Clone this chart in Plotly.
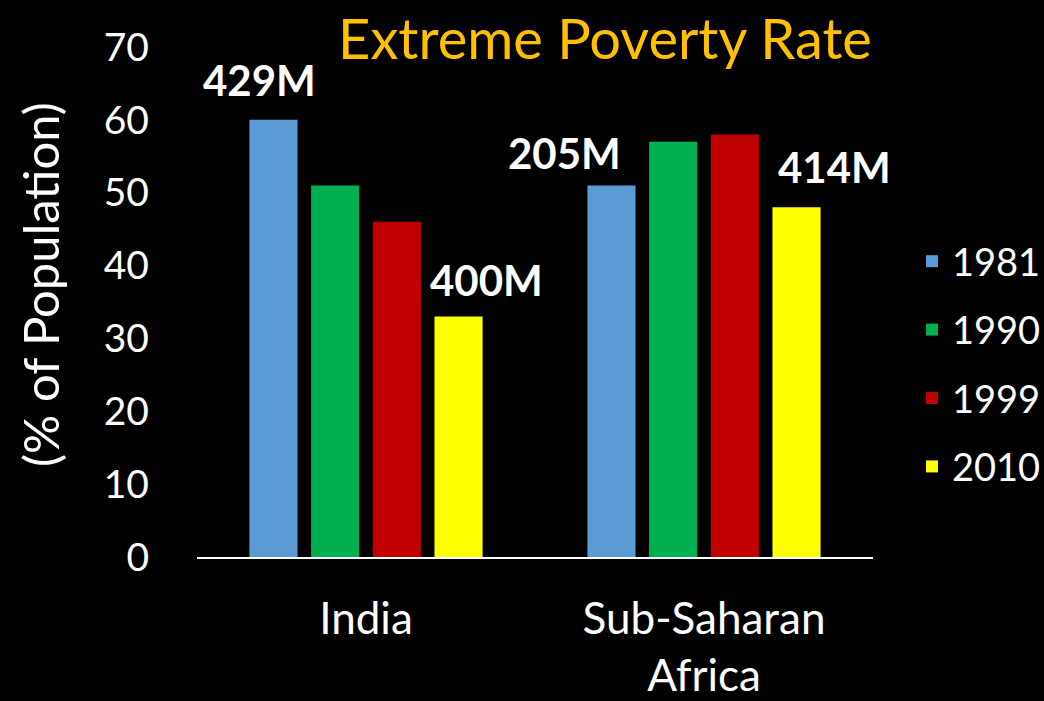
import plotly.graph_objects as go

categories = ["India", "Sub-Saharan<br>Africa"]
years = ["1981", "1990", "1999", "2010"]
values = {
    "1981": [60, 51],
    "1990": [51, 57],
    "1999": [46, 58],
    "2010": [33, 48],
}
colors = {"1981": "#5B9BD5", "1990": "#00B050", "1999": "#C00000", "2010": "#FFFF00"}

label_texts = ["429M", "400M", "205M", "414M"]
label_pos = [(259, 80), (486, 280), (564, 153), (834, 167)]  # pixel centers

W, H = 1044, 701
L, R, T, B = 197, 171, 47, 144
FONT = "Lato"

fig = go.Figure()
for i, y in enumerate(years):
    fig.add_trace(go.Bar(
        name=y, x=categories, y=values[y],
        marker=dict(color=colors[y], line=dict(width=0)),
        legendgroup=y,
    ))

pw, ph = W - L - R, H - T - B
anns = []
for t, (px, py) in zip(label_texts, label_pos):
    anns.append(dict(
        text=f"<b>{t}</b>", x=(px - L) / pw, y=(H - B - py) / ph,
        xref="paper", yref="paper", showarrow=False,
        xanchor="center", yanchor="middle",
        font=dict(family=FONT, size=42, color="white"),
    ))
anns.append(dict(
    text="(% of Population)", x=(40 - L) / pw, y=(H - B - 285) / ph,
    xref="paper", yref="paper", showarrow=False, textangle=-90,
    xanchor="center", yanchor="middle",
    font=dict(family=FONT, size=49, color="white"),
))

fig.update_layout(
    width=W, height=H,
    paper_bgcolor="black", plot_bgcolor="black",
    margin=dict(l=L, r=R, t=T, b=B, autoexpand=False),
    barmode="group", bargap=0.27, bargroupgap=0.22,
    font=dict(family=FONT, color="white"),
    title=dict(text="Extreme Poverty Rate", x=605 / W, xanchor="center",
               y=1 - 39 / H, yanchor="middle", yref="container",
               font=dict(family=FONT, size=56, color="#FFC000")),
    xaxis=dict(showgrid=False, showline=True, linecolor="white", linewidth=2,
               ticks="", tickfont=dict(size=44, color="white"),
               ticklabelstandoff=22),
    yaxis=dict(range=[0, 70], dtick=10, showgrid=False, zeroline=False,
               showline=False, ticks="", tickfont=dict(size=39, color="white"),
               ticklabelstandoff=47),
    legend=dict(x=(912 - L) / pw, xanchor="left", y=(H - B - 364) / ph,
                yanchor="middle", font=dict(size=38, color="white"),
                traceorder="grouped", tracegroupgap=16,
                bgcolor="rgba(0,0,0,0)"),
    annotations=anns,
)

fig.write_html(
    "out.html",
    config={"displayModeBar": False},
    post_script="document.body.style.margin='0';document.body.style.background='black';document.body.style.overflow='hidden';",
)
